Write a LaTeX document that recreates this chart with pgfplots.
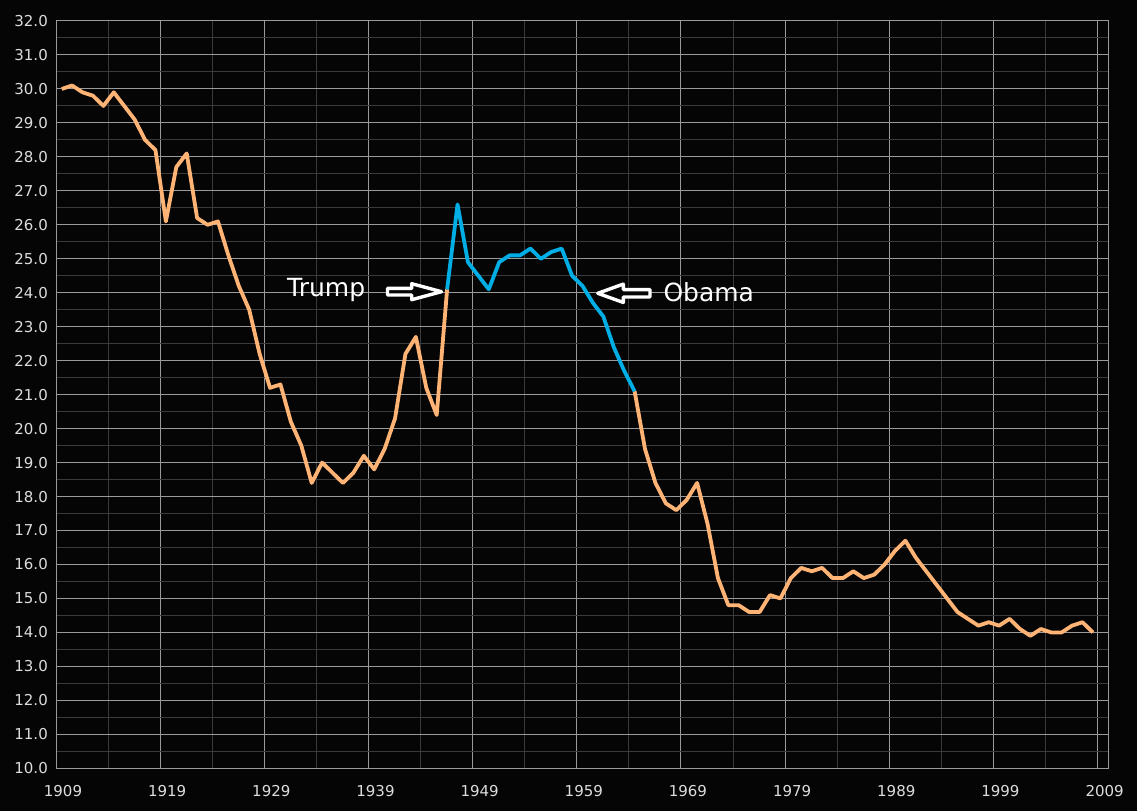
\documentclass[border=0pt]{standalone}
\usepackage{fontspec}
\setmainfont{DejaVu Sans}
\usepackage{pgfplots}
\pgfplotsset{compat=1.18}
\usepackage{pgfplotstable}
\definecolor{bg}{HTML}{050505}
\definecolor{majgrid}{HTML}{9A9A9A}
\definecolor{mingrid}{HTML}{3A3A3A}
\definecolor{orangeline}{HTML}{FFB475}
\definecolor{blueline}{HTML}{00AEE6}
\definecolor{ticktext}{HTML}{DCDCDC}

\pgfplotstableread{
year rate
1909 30.0
1910 30.1
1911 29.9
1912 29.8
1913 29.5
1914 29.9
1915 29.5
1916 29.1
1917 28.5
1918 28.2
1919 26.1
1920 27.7
1921 28.1
1922 26.2
1923 26.0
1924 26.1
1925 25.1
1926 24.2
1927 23.5
1928 22.2
1929 21.2
1930 21.3
1931 20.2
1932 19.5
1933 18.4
1934 19.0
1935 18.7
1936 18.4
1937 18.7
1938 19.2
1939 18.8
1940 19.4
1941 20.3
1942 22.2
1943 22.7
1944 21.2
1945 20.4
1946 24.1
}\early

\pgfplotstableread{
year rate
1946 24.1
1947 26.6
1948 24.9
1949 24.5
1950 24.1
1951 24.9
1952 25.1
1953 25.1
1954 25.3
1955 25.0
1956 25.2
1957 25.3
1958 24.5
1959 24.2
1960 23.7
1961 23.3
1962 22.4
1963 21.7
1964 21.1
}\boom

\pgfplotstableread{
year rate
1964 21.1
1965 19.4
1966 18.4
1967 17.8
1968 17.6
1969 17.9
1970 18.4
1971 17.2
1972 15.6
1973 14.8
1974 14.8
1975 14.6
1976 14.6
1977 15.1
1978 15.0
1979 15.6
1980 15.9
1981 15.8
1982 15.9
1983 15.6
1984 15.6
1985 15.8
1986 15.6
1987 15.7
1988 16.0
1989 16.4
1990 16.7
1991 16.2
1992 15.8
1993 15.4
1994 15.0
1995 14.6
1996 14.4
1997 14.2
1998 14.3
1999 14.2
2000 14.4
2001 14.1
2002 13.9
2003 14.1
2004 14.0
2005 14.0
2006 14.2
2007 14.3
2008 14.0
}\late

\begin{document}
\begin{tikzpicture}
\fill[bg] (0,0) rectangle (1137bp,811bp);
\useasboundingbox (0,0) rectangle (1137bp,811bp);
\begin{axis}[
  at={(56bp,42.7bp)}, anchor=south west,
  scale only axis, width=1052bp, height=747.3bp,
  xmin=1909, xmax=2010, ymin=10, ymax=32,
  xtick={1909,1919,...,2009},
  ytick={10,11,...,32},
  minor x tick num=1, minor y tick num=1,
  grid=both,
  major grid style={draw=majgrid, line width=1bp},
  minor grid style={draw=mingrid, line width=1bp},
  axis line style={draw=majgrid, line width=1bp},
  major tick length=0pt, minor tick length=0pt,
  tick style={draw=none},
  /pgf/number format/assume math mode=true,
  ticklabel style={font=\fontsize{15bp}{18bp}\selectfont, text=ticktext, inner sep=0pt},
  xticklabel style={anchor=north, yshift=-16.7bp, xshift=7bp, /pgf/number format/1000 sep={}},
  xticklabel={\pgfmathprintnumber[1000 sep={}]{\tick}},
  yticklabel style={anchor=east, xshift=-8bp},
  yticklabel={\pgfmathprintnumber[fixed,fixed zerofill,precision=1]{\tick}},
]
\addplot[orangeline, line width=3.8bp, line join=round, no markers] table[x expr=\thisrow{year}+0.55, y=rate]{\early};
\addplot[orangeline, line width=3.8bp, line join=round, no markers] table[x expr=\thisrow{year}+0.55, y=rate]{\late};
\addplot[blueline, line width=3.8bp, line join=round, no markers] table[x expr=\thisrow{year}+0.55, y=rate]{\boom};
\end{axis}
% annotations
\node[anchor=base west, inner sep=0pt, text=white, font=\fontsize{25bp}{30bp}\selectfont] at (287bp,514.3bp) {Trump};
\draw[white, line width=3.4bp, fill=bg, line join=round]
  (387.5bp,516bp) -- (411.7bp,516bp) -- (411.7bp,511.3bp) -- (441.5bp,519.3bp)
  -- (411.7bp,527.3bp) -- (411.7bp,522.6bp) -- (387.5bp,522.6bp) -- cycle;
\node[anchor=base west, inner sep=0pt, text=white, font=\fontsize{25bp}{30bp}\selectfont] at (663.3bp,509.3bp) {Obama};
\draw[white, line width=3.4bp, fill=bg, line join=round]
  (650bp,514bp) -- (623.3bp,514bp) -- (623.3bp,508.5bp) -- (597.8bp,517.7bp)
  -- (623.3bp,526.9bp) -- (623.3bp,521.4bp) -- (650bp,521.4bp) -- cycle;
\end{tikzpicture}
\end{document}
